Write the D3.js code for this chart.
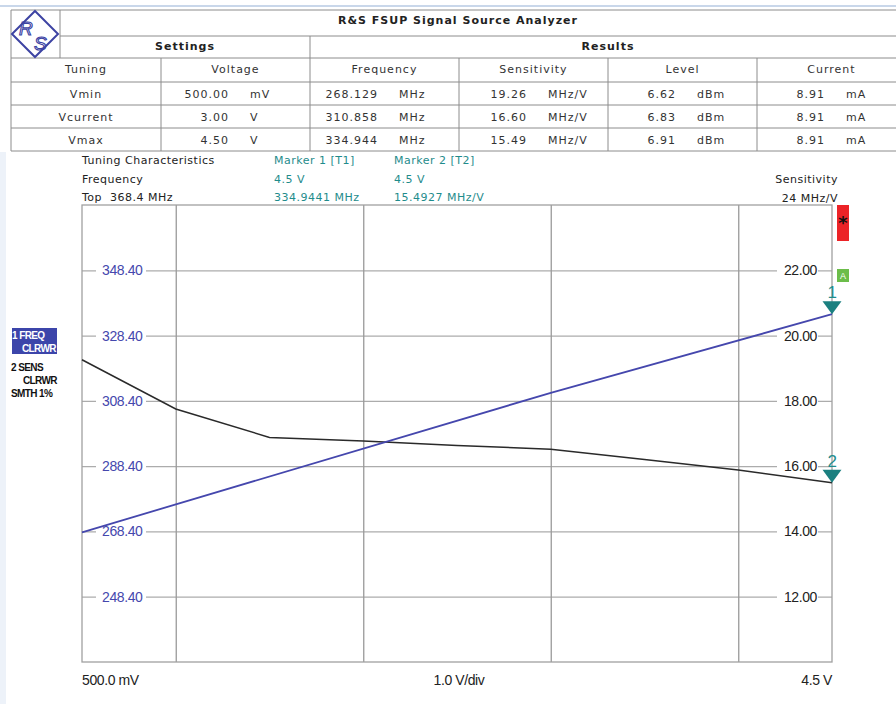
<!DOCTYPE html>
<html>
<head>
<meta charset="utf-8">
<script src="https://cdn.jsdelivr.net/npm/d3@7"></script>
<style>
body{margin:0;background:#fff;overflow:hidden;}
svg{display:block;}
.tbl{font-family:"DejaVu Sans",Verdana,sans-serif;font-size:11px;fill:#333;letter-spacing:1px;}
.info{font-family:"DejaVu Sans",Verdana,sans-serif;font-size:11px;letter-spacing:0.5px;}
.ax{font-family:"Liberation Sans",Arial,sans-serif;font-size:14px;letter-spacing:-0.4px;}
</style>
</head>
<body>
<div id="chart"></div>
<script>
// traces
var voltages = [0.5, 1.0, 1.5, 2.0, 2.5, 3.0, 3.5, 4.0, 4.5];
var sensitivity = [19.26, 17.75, 16.88, 16.77, 16.63, 16.52, 16.20, 15.88, 15.49];
var freqVoltages = [0.5, 3.0, 4.5];
var frequency = [268.129, 310.858, 334.944];

var freqTicks = [348.40, 328.40, 308.40, 288.40, 268.40, 248.40];
var sensTicks = [22, 20, 18, 16, 14, 12];
var voltGrid = [1, 2, 3, 4];

// result table
var tableTitle = "R&S FSUP Signal Source Analyzer";
var groupHeads = ["Settings", "Results"];
var columnHeads = ["Tuning", "Voltage", "Frequency", "Sensitivity", "Level", "Current"];
var tuningNames = ["Vmin", "Vcurrent", "Vmax"];
var voltageCol = [["500.00", "mV"], ["3.00", "V"], ["4.50", "V"]];
var frequencyCol = [["268.129", "MHz"], ["310.858", "MHz"], ["334.944", "MHz"]];
var sensitivityCol = [["19.26", "MHz/V"], ["16.60", "MHz/V"], ["15.49", "MHz/V"]];
var levelCol = [["6.62", "dBm"], ["6.83", "dBm"], ["6.91", "dBm"]];
var currentCol = [["8.91", "mA"], ["8.91", "mA"], ["8.91", "mA"]];

var infoLeft = ["Tuning Characteristics", "Frequency", "Top  368.4 MHz"];
var infoMarker1 = ["Marker 1 [T1]", "4.5 V", "334.9441 MHz"];
var infoMarker2 = ["Marker 2 [T2]", "4.5 V", "15.4927 MHz/V"];
var infoRight = ["Sensitivity", "24 MHz/V"];
var xLabels = ["500.0 mV", "1.0 V/div", "4.5 V"];

var W = 896, H = 704,
    BLUE = "#4547ad", TEAL = "#1f8c8c", GRID = "#acacac";

var svg = d3.select("#chart").append("svg")
    .attr("width", W)
    .attr("height", H);

// window frame bits
svg.append("rect").attr("x", 0).attr("y", 5).attr("width", W).attr("height", 2).attr("fill", "#c9d7ea");
svg.append("rect").attr("x", 0).attr("y", 152).attr("width", 6).attr("height", H - 152).attr("fill", "#edf2f9");

//---------- table ----------
var colX = [11, 161, 310, 459, 608, 757, 906],
    rowY = [10, 36, 58, 82, 105, 128, 151],
    tbl = svg.append("g");

function hline(y, x1, x2){
    tbl.append("line").attr("x1", x1).attr("x2", x2).attr("y1", y).attr("y2", y)
        .attr("stroke", "#8c8c8c").attr("stroke-width", 1);
}
function vline(x, y1, y2){
    tbl.append("line").attr("x1", x).attr("x2", x).attr("y1", y1).attr("y2", y2)
        .attr("stroke", "#8c8c8c").attr("stroke-width", 1);
}
hline(rowY[0], colX[0], W);
hline(rowY[1], 60, W);
rowY.slice(2).forEach(function(y){ hline(y, colX[0], W); });
vline(colX[0], rowY[0], rowY[6]);
vline(60, rowY[0], rowY[2]);
vline(colX[2], rowY[1], rowY[6]);
[1, 3, 4, 5].forEach(function(i){ vline(colX[i], rowY[2], rowY[6]); });

// logo
var logo = tbl.append("g");
logo.append("path")
    .attr("d", "M35,11 L58,34 L35,57 L12,34 Z")
    .attr("fill", "none").attr("stroke", "#3d43a3").attr("stroke-width", 2);
logo.append("text").attr("x", 19).attr("y", 35).text("R")
    .attr("font-family", "Liberation Sans,sans-serif").attr("font-size", 19)
    .attr("font-style", "italic").attr("fill", "none")
    .attr("stroke", "#3d43a3").attr("stroke-width", 1.1);
logo.append("text").attr("x", 34).attr("y", 50).text("S")
    .attr("font-family", "Liberation Sans,sans-serif").attr("font-size", 19)
    .attr("font-style", "italic").attr("fill", "none")
    .attr("stroke", "#3d43a3").attr("stroke-width", 1.1);

tbl.append("text").attr("class", "tbl")
    .attr("x", 458).attr("y", 24).attr("text-anchor", "middle")
    .attr("font-weight", "bold").style("fill", "#222")
    .text(tableTitle);
tbl.selectAll(".grp").data(groupHeads).enter().append("text")
    .attr("class", "tbl grp")
    .attr("x", function(d, i){ return i === 0 ? (60 + colX[2]) / 2 : (colX[2] + colX[6]) / 2; })
    .attr("y", 50).attr("text-anchor", "middle")
    .attr("font-weight", "bold").style("fill", "#222")
    .text(function(d){ return d; });
tbl.selectAll(".hd").data(columnHeads).enter().append("text")
    .attr("class", "tbl hd")
    .attr("x", function(d, i){ return (colX[i] + colX[i + 1]) / 2; })
    .attr("y", 73).attr("text-anchor", "middle")
    .text(function(d){ return d; });
tbl.selectAll(".nm").data(tuningNames).enter().append("text")
    .attr("class", "tbl nm")
    .attr("x", (colX[0] + colX[1]) / 2)
    .attr("y", function(d, i){ return rowY[i + 3] + 16; })
    .attr("text-anchor", "middle")
    .text(function(d){ return d; });

[voltageCol, frequencyCol, sensitivityCol, levelCol, currentCol].forEach(function(col, c){
    var x0 = colX[c + 1];
    col.forEach(function(cell, r){
        var y = rowY[r + 3] + 16;
        tbl.append("text").attr("class", "tbl")
            .attr("x", x0 + 68).attr("y", y).attr("text-anchor", "end")
            .text(cell[0]);
        tbl.append("text").attr("class", "tbl")
            .attr("x", x0 + 89).attr("y", y)
            .text(cell[1]);
    });
});

//---------- info lines ----------
function infoColumn(lines, x, color, anchor, y0){
    svg.append("g").selectAll("text").data(lines).enter().append("text")
        .attr("class", "info")
        .attr("x", x)
        .attr("y", function(d, i){ return y0 + i * 18.5; })
        .attr("text-anchor", anchor)
        .attr("fill", color)
        .attr("xml:space", "preserve")
        .text(function(d){ return d; });
}
infoColumn(infoLeft, 82, "#222", "start", 164);
infoColumn(infoMarker1, 274, TEAL, "start", 164);
infoColumn(infoMarker2, 394, TEAL, "start", 164);
infoColumn(infoRight, 838, "#222", "end", 183);

//---------- plot ----------
var x = d3.scaleLinear().domain([0.5, 4.5]).range([82, 832]),
    yF = d3.scaleLinear().domain([228.4, 368.4]).range([662, 205]),
    yS = d3.scaleLinear().domain([10, 24]).range([662, 205]),
    plotW = x.range()[1] - x.range()[0],
    plotH = yF.range()[0] - yF.range()[1];

svg.append("g")
    .attr("transform", "translate(" + x.range()[0] + ",0)")
    .call(d3.axisLeft(yF).tickValues(freqTicks).tickSize(-plotW).tickFormat(""))
    .call(function(g){
        g.select(".domain").remove();
        g.selectAll("line").attr("stroke", GRID).attr("stroke-width", 1.3);
    });
svg.append("g")
    .attr("transform", "translate(0," + yF.range()[0] + ")")
    .call(d3.axisBottom(x).tickValues(voltGrid).tickSize(-plotH).tickFormat(""))
    .call(function(g){
        g.select(".domain").remove();
        g.selectAll("line").attr("stroke", "#9a9a9a").attr("stroke-width", 1.3);
    });
svg.append("rect")
    .attr("x", x.range()[0]).attr("y", yF.range()[1])
    .attr("width", plotW).attr("height", plotH)
    .attr("fill", "none").attr("stroke", "#a0a0a0").attr("stroke-width", 1.3);

// level labels sitting on the grid
var leftLab = svg.append("g").selectAll("g").data(freqTicks).enter().append("g")
    .attr("transform", function(d){ return "translate(0," + yF(d) + ")"; });
leftLab.append("rect").attr("x", 96).attr("y", -7).attr("width", 50).attr("height", 14).attr("fill", "#fff");
leftLab.append("text").attr("class", "ax")
    .attr("x", 102).attr("y", 5).attr("fill", BLUE)
    .text(function(d){ return d3.format(".2f")(d); });

var rightLab = svg.append("g").selectAll("g").data(sensTicks).enter().append("g")
    .attr("transform", function(d){ return "translate(0," + yS(d) + ")"; });
rightLab.append("rect").attr("x", 777).attr("y", -7).attr("width", 41).attr("height", 14).attr("fill", "#fff");
rightLab.append("text").attr("class", "ax")
    .attr("x", 817).attr("y", 5).attr("text-anchor", "end").attr("fill", "#222")
    .text(function(d){ return d3.format(".2f")(d); });

// traces
var sensData = voltages.map(function(v, i){ return {v: v, s: sensitivity[i]}; }),
    freqData = freqVoltages.map(function(v, i){ return {v: v, f: frequency[i]}; });

svg.append("path").datum(sensData)
    .attr("fill", "none").attr("stroke", "#2a2a2a").attr("stroke-width", 1.5)
    .attr("d", d3.line().x(function(d){ return x(d.v); }).y(function(d){ return yS(d.s); }));
svg.append("path").datum(freqData)
    .attr("fill", "none").attr("stroke", BLUE).attr("stroke-width", 1.8)
    .attr("d", d3.line().x(function(d){ return x(d.v); }).y(function(d){ return yF(d.f); }));

// markers at the end of each trace
var markers = [
    {n: "1", px: x(freqData[2].v), py: yF(freqData[2].f)},
    {n: "2", px: x(sensData[8].v), py: yS(sensData[8].s)}
];
var mk = svg.append("g").selectAll("g").data(markers).enter().append("g")
    .attr("transform", function(d){ return "translate(" + d.px + "," + d.py + ")"; });
mk.append("path").attr("d", "M0,0 L-9.5,-13 L9.5,-13 Z").attr("fill", "#1b8080");
mk.append("text").attr("class", "ax")
    .attr("x", 0).attr("y", -16).attr("text-anchor", "middle")
    .attr("fill", TEAL).style("font-size", "17px")
    .text(function(d){ return d.n; });

// status boxes right of the grid
svg.append("rect").attr("x", 837).attr("y", 205).attr("width", 12).attr("height", 36).attr("fill", "#ec2327");
svg.append("text").attr("x", 843).attr("y", 229).attr("text-anchor", "middle")
    .attr("font-family", "DejaVu Sans,sans-serif").attr("font-size", 18).attr("font-weight", "bold")
    .attr("fill", "#111").text("*");
svg.append("rect").attr("x", 837).attr("y", 269).attr("width", 12).attr("height", 13).attr("fill", "#6cbd4a");
svg.append("text").attr("x", 843).attr("y", 279).attr("text-anchor", "middle")
    .attr("font-family", "Liberation Sans,sans-serif").attr("font-size", 9)
    .attr("fill", "#fff").text("A");

// trace legend on the left
svg.append("rect").attr("x", 12).attr("y", 328).attr("width", 45).attr("height", 26).attr("fill", "#3c45aa");
var legend = [
    {t: "1 FREQ", x: 12, y: 339, a: "start", c: "#fff"},
    {t: "CLRWR", x: 56, y: 352, a: "end", c: "#fff"},
    {t: "2 SENS", x: 11, y: 371, a: "start", c: "#111"},
    {t: "CLRWR", x: 57, y: 384, a: "end", c: "#111"},
    {t: "SMTH 1%", x: 11, y: 397, a: "start", c: "#111"}
];
svg.append("g").selectAll("text").data(legend).enter().append("text")
    .attr("x", function(d){ return d.x; })
    .attr("y", function(d){ return d.y; })
    .attr("text-anchor", function(d){ return d.a; })
    .attr("fill", function(d){ return d.c; })
    .attr("font-family", "Liberation Sans,Arial,sans-serif")
    .attr("font-size", 10).attr("font-weight", "bold").attr("letter-spacing", "-0.6px")
    .text(function(d){ return d.t; });

// bottom captions
svg.append("g").selectAll("text").data(xLabels).enter().append("text")
    .attr("class", "ax")
    .attr("x", function(d, i){ return [82, 459, 832][i]; })
    .attr("y", 685)
    .attr("text-anchor", function(d, i){ return ["start", "middle", "end"][i]; })
    .attr("fill", "#222")
    .text(function(d){ return d; });
</script>
</body>
</html>
